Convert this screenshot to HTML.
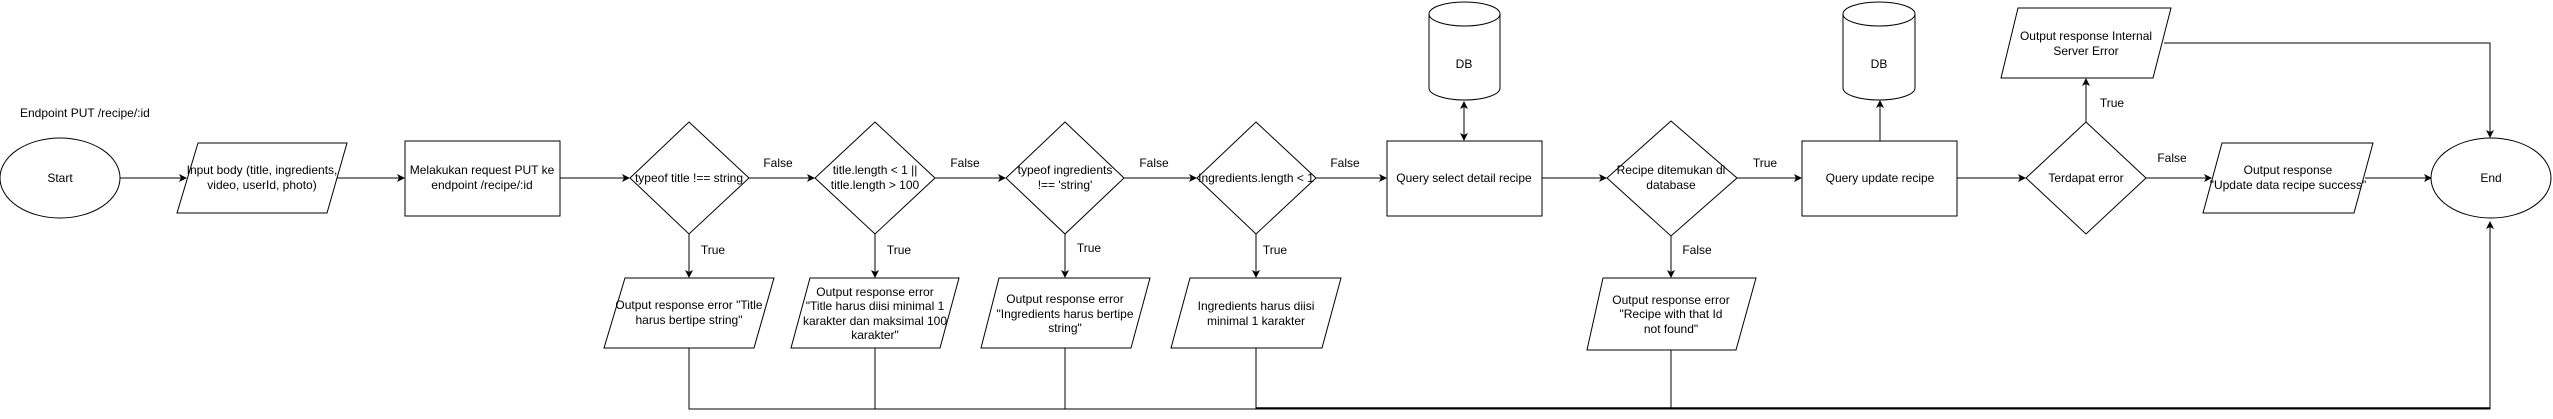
<!DOCTYPE html>
<html><head><meta charset="utf-8"><style>
html,body{margin:0;padding:0;background:#fff;}
svg{display:block;}
text{font-family:"Liberation Sans",Arial,sans-serif;font-size:12px;fill:#000;text-anchor:middle;}
.s{fill:#fff;stroke:#000;stroke-width:1;}
.l{fill:none;stroke:#000;stroke-width:1;}
</style></head><body>
<svg width="2553" height="419" viewBox="0 0 2553 419" xmlns="http://www.w3.org/2000/svg">
<defs><marker id="a" markerWidth="8" markerHeight="8" refX="7" refY="4" orient="auto" markerUnits="userSpaceOnUse"><path d="M0,0 L8,4 L0,8 L2,4 Z" fill="#000"/></marker>
<marker id="b" markerWidth="8" markerHeight="8" refX="1" refY="4" orient="auto" markerUnits="userSpaceOnUse"><path d="M8,0 L0,4 L8,8 L6,4 Z" fill="#000"/></marker></defs>

<text x="20" y="117" style="text-anchor:start">Endpoint PUT /recipe/:id</text>

<!-- bottom lines -->
<path class="l" d="M689,348V409H2490V222" marker-end="url(#a)"/>
<path class="l" d="M875,348V409M1065,348V409M1256,348V409M1671,350V409"/>
<path d="M1256,408H2490" stroke="#000" stroke-width="1.5"/>

<ellipse class="s" cx="60" cy="178" rx="60" ry="40"/>
<text x="60" y="182">Start</text>

<path class="l" d="M120,178H186" marker-end="url(#a)"/>
<polygon class="s" points="198,143 347,143 327,213 177,213"/>
<text x="262" y="174">Input body (title, ingredients,</text>
<text x="262" y="189">video, userId, photo)</text>

<path class="l" d="M337,178H404" marker-end="url(#a)"/>
<rect class="s" x="405" y="141" width="155" height="75"/>
<text x="482" y="174">Melakukan request PUT ke</text>
<text x="482" y="189">endpoint /recipe/:id</text>

<path class="l" d="M560,178H629" marker-end="url(#a)"/>
<polygon class="s" points="689,122 749,178 689,234 630,178"/>
<text x="689" y="182">typeof title !== string</text>

<path class="l" d="M749,178H814" marker-end="url(#a)"/>
<text x="778" y="167">False</text>
<polygon class="s" points="875,122 935,178 875,234 815,178"/>
<text x="875" y="174">title.length &lt; 1 ||</text>
<text x="875" y="189">title.length &gt; 100</text>

<path class="l" d="M935,178H1005" marker-end="url(#a)"/>
<text x="965" y="167">False</text>
<polygon class="s" points="1065,122 1124,178 1065,234 1006,178"/>
<text x="1065" y="174">typeof ingredients</text>
<text x="1065" y="189">!== 'string'</text>

<path class="l" d="M1124,178H1196" marker-end="url(#a)"/>
<text x="1154" y="167">False</text>
<polygon class="s" points="1256,122 1316,178 1256,234 1197,178"/>
<text x="1256" y="182">Ingredients.length &lt; 1</text>

<path class="l" d="M1316,178H1386" marker-end="url(#a)"/>
<text x="1345" y="167">False</text>
<rect class="s" x="1387" y="141" width="155" height="75"/>
<text x="1464" y="182">Query select detail recipe</text>

<path class="l" d="M1464,102V140" marker-start="url(#b)" marker-end="url(#a)"/>
<path class="s" d="M1429,14V88A35.5,12 0 0 0 1500,88V14A35.5,12 0 0 0 1429,14Z"/>
<path class="l" d="M1429,14A35.5,12 0 0 0 1500,14"/>
<text x="1464" y="68">DB</text>

<path class="l" d="M1542,178H1606" marker-end="url(#a)"/>
<polygon class="s" points="1671,121 1737,178 1671,236 1607,178"/>
<text x="1671" y="174">Recipe ditemukan di</text>
<text x="1671" y="189">database</text>

<path class="l" d="M1737,178H1801" marker-end="url(#a)"/>
<text x="1765" y="167">True</text>
<rect class="s" x="1802" y="141" width="155" height="75"/>
<text x="1880" y="182">Query update recipe</text>

<path class="l" d="M1880,141V101" marker-end="url(#a)"/>
<path class="s" d="M1843,14V88A36,12 0 0 0 1915,88V14A36,12 0 0 0 1843,14Z"/>
<path class="l" d="M1843,14A36,12 0 0 0 1915,14"/>
<text x="1879" y="68">DB</text>

<path class="l" d="M1957,178H2025" marker-end="url(#a)"/>
<polygon class="s" points="2086,122 2146,178 2086,234 2026,178"/>
<text x="2086" y="182">Terdapat error</text>

<path class="l" d="M2086,122V79" marker-end="url(#a)"/>
<text x="2112" y="107">True</text>
<polygon class="s" points="2018,8 2171,8 2153,78 2001,78"/>
<text x="2086" y="40">Output response Internal</text>
<text x="2086" y="55">Server Error</text>
<path class="l" d="M2164,43H2490V137" marker-end="url(#a)"/>

<path class="l" d="M2146,178H2211" marker-end="url(#a)"/>
<text x="2172" y="162">False</text>
<polygon class="s" points="2222,143 2373,143 2354,213 2203,213"/>
<text x="2288" y="174">Output response</text>
<text x="2288" y="189">"Update data recipe success"</text>

<path class="l" d="M2365,178H2431" marker-end="url(#a)"/>
<ellipse class="s" cx="2491" cy="178" rx="60" ry="40"/>
<text x="2491" y="182">End</text>

<!-- down arrows -->
<path class="l" d="M689,234V277" marker-end="url(#a)"/>
<text x="713" y="254">True</text>
<path class="l" d="M875,234V277" marker-end="url(#a)"/>
<text x="899" y="254">True</text>
<path class="l" d="M1065,234V277" marker-end="url(#a)"/>
<text x="1089" y="252">True</text>
<path class="l" d="M1256,234V277" marker-end="url(#a)"/>
<text x="1275" y="254">True</text>
<path class="l" d="M1671,236V277" marker-end="url(#a)"/>
<text x="1697" y="254">False</text>

<polygon class="s" points="625,278 774,278 754,348 604,348"/>
<text x="689" y="309">Output response error "Title</text>
<text x="689" y="324">harus bertipe string"</text>

<polygon class="s" points="810,278 959,278 940,348 791,348"/>
<text x="875" y="296">Output response error</text>
<text x="875" y="310">"Title harus diisi minimal 1</text>
<text x="875" y="325">karakter dan maksimal 100</text>
<text x="875" y="339">karakter"</text>

<polygon class="s" points="999,278 1150,278 1131,348 981,348"/>
<text x="1065" y="303">Output response error</text>
<text x="1065" y="318">"Ingredients harus bertipe</text>
<text x="1065" y="332">string"</text>

<polygon class="s" points="1190,278 1341,278 1322,348 1171,348"/>
<text x="1256" y="310">Ingredients harus diisi</text>
<text x="1256" y="325">minimal 1 karakter</text>

<polygon class="s" points="1603,278 1756,278 1736,350 1587,350"/>
<text x="1671" y="304">Output response error</text>
<text x="1671" y="318">"Recipe with that Id</text>
<text x="1671" y="333">not found"</text>
</svg>
</body></html>
